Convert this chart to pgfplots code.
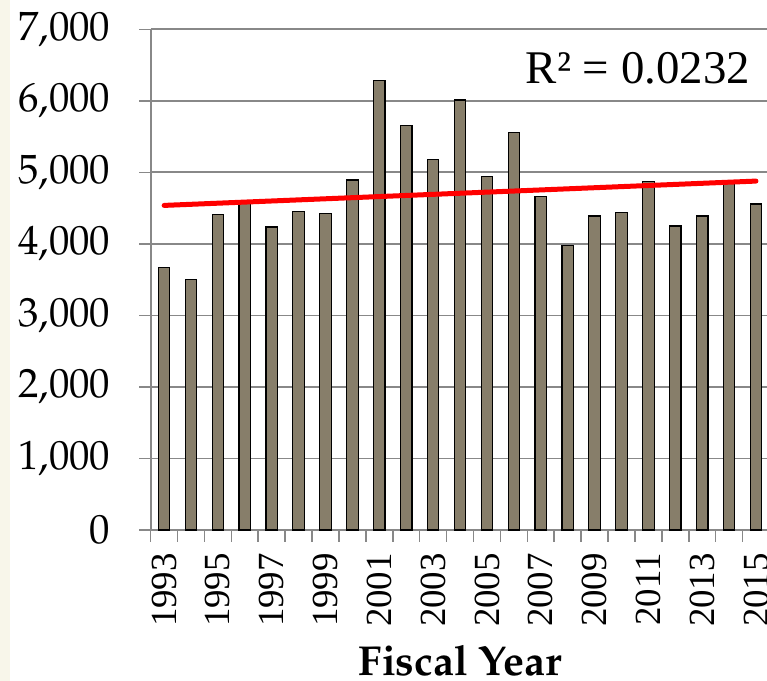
\documentclass[border=0pt]{standalone}
\usepackage[T1,TU]{fontenc}
\usepackage{fontspec}
\setmainfont{Liberation Serif}
\usepackage{pgfplots}
\pgfplotsset{compat=1.18}
\definecolor{barfill}{HTML}{877E6A}
\definecolor{axisgrey}{HTML}{888888}
\definecolor{cream}{HTML}{F8F6EA}
\newcommand{\pala}{\fontencoding{T1}\fontfamily{ppl}\selectfont}

\begin{document}
\begin{tikzpicture}
\fill[cream] (-150.7bp,-151bp) rectangle (-140.7bp,530bp);
\begin{axis}[
  at={(0,0)}, anchor=south west,
  scale only axis, width=618.7bp, height=500.7bp,
  xmin=1992.5, xmax=2015.5, ymin=0, ymax=7000,
  axis x line*=bottom, axis y line*=left,
  axis line style={axisgrey, line width=2bp},
  tick align=outside,
  % category boundaries carry the tick marks
  xtick={1992.5,1993.5,...,2015.5}, xticklabels={},
  x tick style={axisgrey, line width=1.6bp},
  extra x ticks={1993,1995,...,2015},
  extra x tick labels={1993,1995,1997,1999,2001,2003,2005,2007,2009,2011,2013,2015},
  extra x tick style={major tick length=0pt, tick style={draw=none}},
  xticklabel style={font=\fontsize{37}{37}\selectfont, inner sep=0pt,
    yshift=-23bp, rotate=90, anchor=east},
  major tick length=11.5bp,
  ytick={0,1000,...,7000},
  y tick style={axisgrey, line width=1.6bp},
  ymajorgrids, grid style={axisgrey, line width=1.8bp},
  /pgf/number format/.cd, 1000 sep={,}, assume math mode=true, /pgfplots/.cd,
  yticklabel style={font=\pala\fontsize{41}{41}\selectfont, anchor=east, inner sep=0pt, xshift=-28.7bp},
  xlabel={\pala\bfseries\fontsize{42}{42}\selectfont Fiscal Year},
  xlabel style={at={(axis description cs:0.5,0)}, anchor=base, inner sep=0pt, yshift=-145bp},
  clip=false,
]
\addplot[ybar, bar width=11.5bp, fill=barfill, draw=black, line width=1.2bp] coordinates {
  (1993,3667) (1994,3503) (1995,4413) (1996,4575) (1997,4235)
  (1998,4450) (1999,4427) (2000,4893) (2001,6287) (2002,5657)
  (2003,5182) (2004,6011) (2005,4940) (2006,5559) (2007,4664)
  (2008,3983) (2009,4389) (2010,4441) (2011,4870) (2012,4249)
  (2013,4389) (2014,4855) (2015,4557)
};
% linear trend
\addplot[red, line width=5bp, line cap=round] coordinates {(1993,4538) (2015,4878)};
\node[anchor=base east, inner sep=0pt, font=\fontsize{47}{47}\selectfont] at (axis cs:2014.78,6245) {R² = 0.0232};
\end{axis}
\pgfresetboundingbox
\useasboundingbox (-150.7bp,-151bp) rectangle (616.3bp,530bp);
\end{tikzpicture}
\end{document}
